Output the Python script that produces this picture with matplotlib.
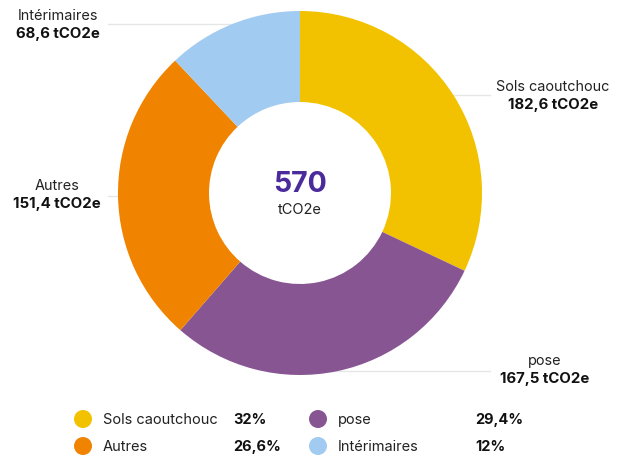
import matplotlib.pyplot as plt
from matplotlib.patches import Circle

plt.rcParams['font.family'] = ['Inter', 'DejaVu Sans']

# data
labels = ['Sols caoutchouc', 'pose', 'Autres', 'Intérimaires']
values = [182.6, 167.5, 151.4, 68.6]
value_texts = ['182,6 tCO2e', '167,5 tCO2e', '151,4 tCO2e', '68,6 tCO2e']
pct_texts = ['32%', '29,4%', '26,6%', '12%']
colors = ['#F2C200', '#885593', '#F08300', '#A1CBF0']
total_text = '570'

W, H = 617, 455
fig = plt.figure(figsize=(W / 100, H / 100), dpi=100)
ax = fig.add_axes([0, 0, 1, 1])

cx, cy, R = 300, 193, 182

# leader lines behind the donut
lc = '#e6e6e6'
ax.plot([108, 300], [24, 24], color=lc, lw=1, zorder=0)
ax.plot([300, 490], [95, 95], color=lc, lw=1, zorder=0)
ax.plot([108, 200], [196, 196], color=lc, lw=1, zorder=0)
ax.plot([300, 490], [371, 371], color=lc, lw=1, zorder=0)

ax.pie(values, colors=colors, startangle=-90, counterclock=True,
       center=(cx, cy), radius=R,
       wedgeprops=dict(width=R * 0.5, linewidth=0), frame=False)

ax.set_xlim(0, W)
ax.set_ylim(H, 0)
ax.set_aspect('equal')
ax.axis('off')

# centre
ax.text(cx, 185, total_text, ha='center', va='center', fontsize=20.5,
        fontweight='bold', color='#4B2A9C')
ax.text(cx, 210, 'tCO2e', ha='center', va='center', fontsize=10.5, color='#222222')

# outside labels
lab_pos = {
    'Sols caoutchouc': (553, 87),
    'pose': (545, 361),
    'Autres': (57, 186),
    'Intérimaires': (58, 16),
}
for lab, vt in zip(labels, value_texts):
    x, y = lab_pos[lab]
    ax.text(x, y, lab, ha='center', va='center', fontsize=10.4, color='#222222')
    ax.text(x, y + 18, vt, ha='center', va='center', fontsize=10.8,
            fontweight='bold', color='#111111')

# legend
leg_x = [83, 318]
leg_y = [419, 446]
for i, (lab, pt, c) in enumerate(zip(labels, pct_texts, colors)):
    col = i % 2
    row = i // 2
    x0 = leg_x[col]
    y0 = leg_y[row]
    ax.add_patch(Circle((x0, y0), 9, color=c, lw=0))
    ax.text(x0 + 20, y0 + 1, lab, ha='left', va='center', fontsize=10.5, color='#222222')
    ax.text(x0 + (150 if col == 0 else 157), y0 + 1, pt, ha='left', va='center',
            fontsize=10.5, fontweight='bold', color='#111111')

fig.savefig('out.png', dpi=100)
